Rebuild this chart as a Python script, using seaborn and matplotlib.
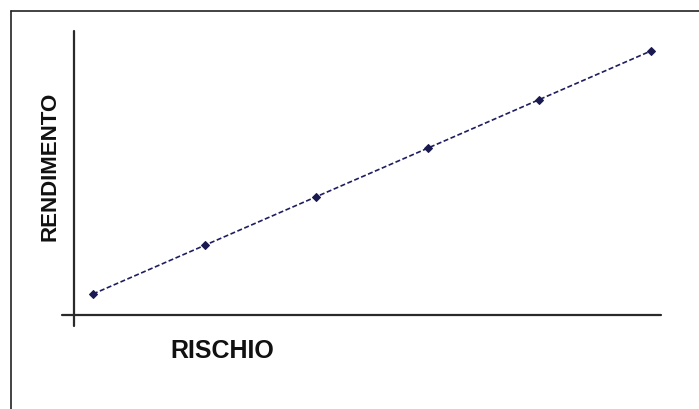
import matplotlib
matplotlib.use("Agg")
import matplotlib.pyplot as plt
import seaborn as sns
import pandas as pd
from matplotlib.lines import Line2D

# data (equally spaced steps)
rischio = [1, 2, 3, 4, 5, 6]
rendimento = [1, 2, 3, 4, 5, 6]
x_label = "RISCHIO"
y_label = "RENDIMENTO"

df = pd.DataFrame({"rischio": rischio, "rendimento": rendimento})

sns.set_style("white")
plt.rcParams["font.family"] = ["Liberation Sans", "DejaVu Sans"]

W, H = 699, 410
fig = plt.figure(figsize=(W / 100, H / 100), dpi=100)

# axes box in pixels: left 74, right 661, top 32, bottom 316
ax = fig.add_axes([74 / W, (H - 316) / H, (661 - 74) / W, (316 - 32) / H])
ax.set_facecolor("none")

sns.lineplot(data=df, x="rischio", y="rendimento", ax=ax,
             color="#1e1e60", linestyle=(0, (3, 1.5)), linewidth=1.2,
             marker="D", markersize=4.5, markeredgecolor="#1a1a50",
             markerfacecolor="#1a1a50")

ax.set_xlim(0.83, 6.09)
ax.set_ylim(0.568, 6.41)
for s in ax.spines.values():
    s.set_visible(False)
ax.set_xticks([])
ax.set_yticks([])
ax.set_xlabel("")
ax.set_ylabel("")

# axis lines, a bit past the origin
ax.plot([-12 / 587, 1], [0, 0], transform=ax.transAxes, clip_on=False,
        color="#2a2a2a", linewidth=1.6)
ax.plot([0, 0], [-11 / 284, 1], transform=ax.transAxes, clip_on=False,
        color="#2a2a2a", linewidth=1.6)

fig.text(222 / W, 1 - 351 / H, x_label, ha="center", va="center",
         fontsize=18, fontweight="bold", color="#111111")
fig.text(50 / W, 1 - 166 / H, y_label, ha="center", va="center",
         rotation=90, fontsize=16, fontweight="bold", color="#111111")

# frame: only top and left edges visible
fig.add_artist(Line2D([10.5 / W, 1], [1 - 11.5 / H, 1 - 11.5 / H],
                      transform=fig.transFigure, color="#222222", linewidth=1.2))
fig.add_artist(Line2D([10.5 / W, 10.5 / W], [0, 1 - 11.5 / H],
                      transform=fig.transFigure, color="#222222", linewidth=1.2))

plt.savefig("out.png", dpi=100)
